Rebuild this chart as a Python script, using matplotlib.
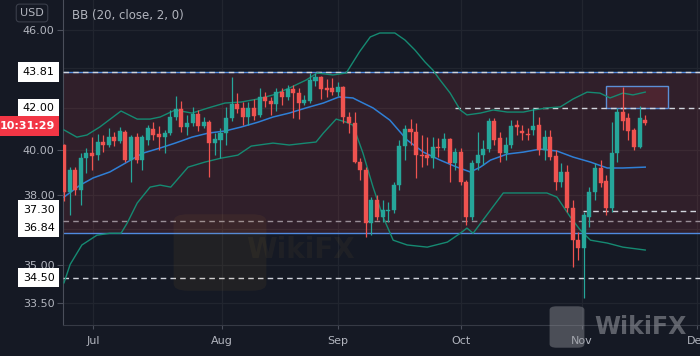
import matplotlib
matplotlib.use("Agg")
import matplotlib.pyplot as plt
import numpy as np
from matplotlib.patches import Rectangle, FancyBboxPatch
from matplotlib.transforms import blended_transform_factory
from matplotlib.ticker import NullLocator, FixedLocator

# ---------------- data ----------------
opens = [40.25, 38.11, 39.10, 38.20, 39.64, 39.87, 39.78, 40.39, 40.25, 40.62,
         40.43, 40.86, 39.55, 40.62, 39.55, 40.48, 41.00, 40.77, 40.62, 40.81,
         41.58, 41.97, 41.10, 41.28, 41.72, 41.14, 41.33, 40.34, 40.48, 40.81,
         41.53, 42.21, 42.02, 41.58, 42.02, 41.68, 42.56, 42.36, 42.21, 42.80,
         42.56, 42.95, 42.75, 42.26, 42.36, 43.35, 43.56, 43.00, 43.00, 42.80,
         43.05, 41.58, 41.28, 39.46, 39.10, 36.76, 37.76, 37.02, 37.30, 37.32,
         38.42, 40.20, 41.00, 40.86, 39.78, 39.80, 39.64, 40.16, 40.11, 40.53,
         39.41, 39.92, 38.56, 37.02, 39.41, 39.78, 40.06, 41.38, 40.58, 39.87,
         40.25, 41.19, 40.91, 40.77, 40.96, 41.19, 40.02, 40.62, 39.74, 38.56,
         39.01, 37.41, 36.04, 35.71, 37.02, 38.11, 39.19, 38.60, 37.41, 39.87,
         41.82, 41.53, 40.96, 40.16, 41.43]
highs = [40.30, 39.23, 39.23, 39.87, 40.11, 40.62, 40.77, 40.72, 41.05, 40.86,
         41.10, 40.96, 40.72, 40.81, 40.72, 41.19, 41.33, 41.14, 40.96, 41.92,
         42.61, 42.36, 41.68, 42.07, 41.92, 41.58, 41.43, 40.81, 41.05, 42.07,
         43.56, 42.75, 42.31, 42.31, 42.46, 43.00, 42.80, 42.56, 43.00, 43.00,
         43.15, 43.15, 43.00, 42.66, 43.76, 43.76, 43.60, 43.45, 43.50, 43.30,
         43.10, 41.82, 41.82, 39.64, 39.23, 37.89, 37.98, 37.76, 37.67, 38.56,
         40.48, 41.19, 41.48, 41.28, 40.72, 40.62, 40.62, 40.58, 40.81, 40.58,
         40.11, 40.11, 38.65, 39.55, 40.86, 40.48, 41.53, 41.53, 40.86, 40.62,
         41.43, 41.43, 41.19, 41.05, 42.02, 41.58, 40.96, 40.96, 40.02, 39.41,
         39.32, 37.76, 36.38, 37.25, 38.33, 39.41, 39.55, 38.87, 41.33, 42.02,
         43.05, 41.77, 41.05, 42.12, 41.68]
lows = [37.72, 37.11, 37.98, 37.54, 38.96, 39.10, 39.55, 39.92, 40.16, 40.20,
        40.34, 39.46, 38.56, 39.41, 39.10, 40.25, 40.48, 40.02, 39.87, 40.72,
        41.43, 40.86, 40.72, 41.14, 40.91, 41.05, 38.78, 39.78, 39.64, 40.25,
        41.38, 41.77, 41.19, 41.19, 41.43, 41.58, 42.07, 41.68, 41.87, 42.16,
        42.41, 41.53, 41.48, 42.16, 42.26, 43.10, 42.46, 42.56, 42.66, 42.61,
        41.28, 40.81, 39.41, 38.65, 36.16, 36.25, 36.89, 36.80, 36.80, 37.19,
        38.20, 39.55, 40.25, 38.74, 39.23, 39.32, 39.19, 39.69, 40.02, 38.56,
        39.10, 38.42, 36.68, 36.89, 39.10, 39.32, 39.92, 40.25, 39.46, 39.55,
        40.11, 40.72, 40.48, 40.48, 40.72, 39.78, 39.55, 39.55, 38.20, 38.33,
        37.24, 34.94, 35.22, 33.70, 36.59, 37.76, 38.33, 37.11, 37.24, 39.46,
        40.96, 40.48, 40.02, 40.11, 41.19]
closes = [38.11, 39.10, 38.20, 39.64, 39.87, 39.74, 40.39, 40.25, 40.62, 40.43,
          40.91, 39.55, 40.62, 39.55, 40.62, 41.05, 40.72, 40.62, 40.81, 41.58,
          41.97, 41.10, 41.28, 41.72, 41.14, 41.33, 40.34, 40.53, 40.81, 41.53,
          42.21, 41.97, 41.58, 42.02, 41.63, 42.56, 42.36, 42.21, 42.80, 42.56,
          42.95, 42.75, 42.26, 42.41, 43.40, 43.56, 42.95, 42.90, 42.80, 43.05,
          41.58, 41.28, 39.46, 39.10, 36.76, 37.76, 37.02, 37.32, 37.32, 38.42,
          40.20, 41.00, 40.86, 39.78, 39.74, 39.64, 40.16, 40.11, 40.53, 39.41,
          39.92, 38.56, 37.02, 39.41, 39.78, 40.06, 41.38, 40.48, 39.87, 40.25,
          41.14, 41.10, 40.81, 40.72, 41.14, 40.02, 40.62, 39.69, 38.56, 39.01,
          37.41, 36.04, 35.71, 37.11, 38.11, 39.19, 38.51, 37.41, 39.87, 41.82,
          41.38, 40.91, 40.16, 41.53, 41.28]

# Bollinger bands (read at selected bars)
mid_idx = [0, 2.9, 5.2, 8.2, 11.3, 14.1, 17.2, 19.9, 22.9, 25.8, 28.8, 31.7, 34.7,
           37.4, 40.3, 43.3, 46.4, 49.2, 51.7, 52.4, 55.3, 58.3, 61.4, 64.3, 67.3,
           70.3, 72.7, 74.5, 76.3, 79.3, 82.2, 85.2, 88.2, 91.1, 94.2, 97.2, 100.0, 104]
mid_val = [37.89, 38.42, 38.74, 39.01, 39.46, 39.87, 40.11, 40.34, 40.62, 40.81,
           40.91, 41.10, 41.33, 41.58, 41.77, 42.02, 42.26, 42.56, 42.51, 42.41,
           42.02, 41.43, 40.48, 39.92, 39.55, 39.23, 39.01, 39.23, 39.55, 39.83,
           39.92, 40.06, 39.97, 39.69, 39.46, 39.19, 39.19, 39.23]
up_idx = [0, 2.3, 4.1, 6.4, 10.2, 13.1, 15.4, 17.2, 19.9, 22.9, 25.8, 28.8, 31.7,
          34.7, 37.4, 40.3, 43.3, 45.3, 48.1, 50.5, 52.9, 54.8, 56.5, 59.2, 61.0,
          62.8, 64.6, 66.0, 67.3, 69.1, 70.9, 72.1, 74.5, 76.8, 79.3, 82.2, 84.0,
          86.4, 88.8, 91.1, 93.6, 95.9, 97.7, 100.0, 101.8, 104]
up_val = [40.96, 40.62, 40.72, 41.10, 41.87, 41.48, 41.48, 41.58, 41.92, 41.77,
          42.02, 42.26, 42.31, 42.46, 42.66, 43.00, 43.40, 43.76, 43.66, 43.76,
          44.86, 45.63, 45.84, 45.84, 45.47, 44.94, 44.32, 43.91, 43.40, 42.75,
          41.92, 41.68, 41.77, 41.92, 41.82, 41.82, 41.92, 42.02, 42.07, 42.46,
          42.80, 42.75, 42.51, 42.75, 42.66, 42.80]
lo_idx = [0, 1.1, 3.2, 5.9, 8.2, 10.2, 11.3, 13.1, 15.4, 17.2, 19.1, 22.2, 25.2,
          28.1, 31.1, 33.5, 37.4, 40.3, 43.3, 45.1, 46.4, 48.7, 50.5, 51.7, 53.5,
          55.3, 57.1, 58.9, 61.4, 65.0, 68.6, 70.9, 72.1, 73.2, 76.3, 78.6, 82.2,
          86.4, 88.2, 90.6, 92.4, 94.2, 97.2, 100.0, 104]
lo_val = [34.30, 35.04, 35.84, 36.25, 36.33, 36.33, 36.76, 37.63, 38.33, 38.42,
          38.33, 39.23, 39.46, 39.64, 39.78, 40.20, 40.34, 40.25, 40.34, 40.39,
          40.81, 41.48, 41.33, 41.19, 39.87, 38.33, 37.02, 36.04, 35.84, 35.75,
          35.96, 36.33, 36.55, 36.33, 37.32, 38.07, 38.07, 38.07, 37.89, 37.02,
          36.46, 36.04, 35.92, 35.75, 35.63]

month_labels = ["Jul", "Aug", "Sep", "Oct", "Nov", "Dec"]
month_pos = [5.2, 28.3, 49.0, 71.0, 92.7, 113.3]

y_ticks = [33.50, 35.00, 38.00, 40.00, 46.00]
level_full = [43.81, 36.84, 34.50]
level_42 = 42.00
level_3730 = 37.30
zone_top, zone_bottom = 43.81, 36.33
box_x0, box_x1, box_lo, box_hi = 97.0, 108.1, 42.00, 43.10
countdown = "10:31:29"
legend_text = "BB (20, close, 2, 0)"

# ---------------- style ----------------
BG = "#151924"
GREEN = "#26a69a"
RED = "#ef5350"
TXT = "#b2b5be"
GRID = "#21252f"

fig = plt.figure(figsize=(7.0, 3.56), dpi=100, facecolor=BG)
ax = fig.add_axes([63 / 700, 31 / 356, 637 / 700, 325 / 356], facecolor=BG)
ax.set_yscale("log")
ax.set_ylim(32.66, 47.63)
ax.set_xlim(-0.18, 113.8)

# grid
for p in month_pos:
    ax.axvline(p, color=GRID, lw=0.9, zorder=0)
for t in y_ticks + [42.0, 44.0, 36.5]:
    ax.axhline(t, color=GRID, lw=0.9, zorder=0)

# zone rectangle
ax.add_patch(Rectangle((-5, zone_bottom), 130, zone_top - zone_bottom,
                       facecolor=(0.93, 0.30, 0.33, 0.13), edgecolor="none", zorder=1))
ax.axhline(zone_bottom, color="#4f8ae0", lw=1.0, zorder=2)
ax.axhline(zone_top, color="#4f8ae0", lw=1.0, zorder=2)

# small rectangle
ax.add_patch(Rectangle((box_x0, box_lo), box_x1 - box_x0, box_hi - box_lo,
                       facecolor=(0.93, 0.30, 0.33, 0.15), edgecolor="#5b8fd6",
                       lw=1.0, zorder=2))

# dashed levels
dash = dict(color="#d1d4dc", lw=1.0, ls=(0, (4, 3)), zorder=3)
ax.axhline(level_full[0], **dash)
ax.axhline(level_full[1], color="#9a8f98", lw=1.0, ls=(0, (4, 3)), zorder=3)
ax.axhline(level_full[2], **dash)
ax.plot([70.0, 120], [level_42, level_42], **dash)
ax.plot([92.9, 120], [level_3730, level_3730], **dash)

# bollinger bands
ax.plot(up_idx, up_val, color="#158a72", lw=1.0, zorder=4)
ax.plot(lo_idx, lo_val, color="#158a72", lw=1.0, zorder=4)
ax.plot(mid_idx, mid_val, color="#2f7fd6", lw=1.1, zorder=4)

# candles
x = np.arange(len(opens))
o = np.array(opens); c = np.array(closes); h = np.array(highs); l = np.array(lows)
cols = np.where(c >= o, GREEN, RED)
ax.vlines(x, l, h, colors=cols, lw=0.9, zorder=5)
bottoms = np.minimum(o, c)
heights = np.maximum(np.abs(c - o), 0.02)
ax.bar(x, heights, bottom=bottoms, width=0.72, color=cols, edgecolor=cols,
       linewidth=0.3, zorder=6)

# axes styling
for s in ["top", "right"]:
    ax.spines[s].set_visible(False)
ax.spines["left"].set_color("#4a4e5a")
ax.spines["bottom"].set_color("#363a45")
ax.yaxis.set_minor_locator(NullLocator())
ax.yaxis.set_major_locator(FixedLocator(y_ticks))
ax.set_yticklabels([f"{v:.2f}" for v in y_ticks])
ax.tick_params(axis="y", colors=TXT, labelsize=8, length=4, width=0.8, pad=2,
               color="#4a4e5a")
ax.xaxis.set_major_locator(FixedLocator(month_pos))
ax.set_xticklabels(month_labels)
ax.tick_params(axis="x", colors=TXT, labelsize=8, length=3, width=0.8, pad=5,
               color="#4a4e5a")
ax.xaxis.set_minor_locator(NullLocator())

# price labels on axis
trans = blended_transform_factory(ax.transAxes, ax.transData)
def price_box(val, text, dy=0, fc="white", tc="black", weight="normal"):
    ax.annotate(text, xy=(0, val), xycoords=trans, xytext=(-6, dy),
                textcoords="offset points", ha="right", va="center",
                fontsize=8, color=tc, fontweight=weight, annotation_clip=False,
                zorder=10,
                bbox=dict(boxstyle="square,pad=0.42", fc=fc, ec="none"))

price_box(43.81, "43.81")
price_box(42.00, "42.00")
price_box(37.30, "37.30", dy=0.5)
price_box(36.84, "36.84", dy=-4.5)
price_box(34.50, "34.50")
price_box(closes[-1], countdown, dy=-2, fc="#f23645", tc="white", weight="bold")

# header texts
fig.text(32 / 700, 1 - 13 / 356, "USD", color=TXT, fontsize=8, ha="center",
         va="center",
         bbox=dict(boxstyle="round,pad=0.35,rounding_size=0.3", fc=BG, ec="#3a3e4a", lw=0.8))
fig.text(72 / 700, 1 - 16 / 356, legend_text, color=TXT, fontsize=8.5,
         ha="left", va="center")

# watermarks
fig.text(640 / 700, 1 - 327 / 356, "WikiFX", color="#9a9ca3", alpha=0.55,
         fontsize=17, fontweight="bold", ha="center", va="center")
fig.patches.append(FancyBboxPatch((551 / 700, 1 - 347 / 356), 32 / 700, 40 / 356,
                                  boxstyle="round,pad=0.002,rounding_size=0.01",
                                  transform=fig.transFigure, fc="#8d8f96",
                                  ec="none", alpha=0.45))
fig.text(300 / 700, 1 - 250 / 356, "WikiFX", color="#c8a040", alpha=0.06,
         fontsize=20, fontweight="bold", ha="center", va="center")
fig.patches.append(FancyBboxPatch((175 / 700, 1 - 290 / 356), 90 / 700, 75 / 356,
                                  boxstyle="round,pad=0.002,rounding_size=0.02",
                                  transform=fig.transFigure, fc="#c8902a",
                                  ec="none", alpha=0.07))

fig.savefig("out.png", dpi=100, facecolor=BG)
